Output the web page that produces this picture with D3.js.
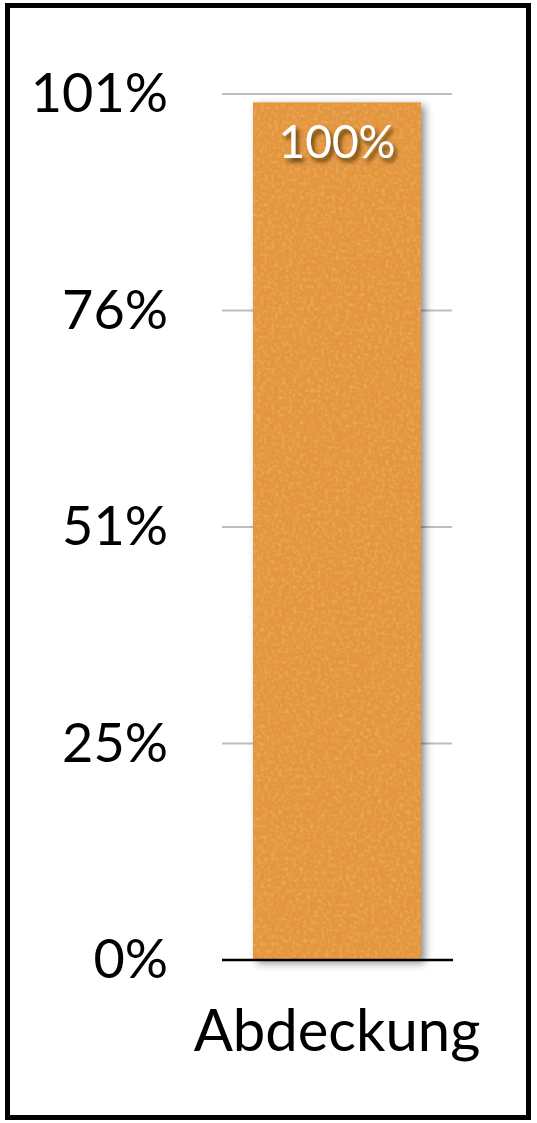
<!DOCTYPE html>
<html>
<head>
<meta charset="utf-8">
<script src="https://cdn.jsdelivr.net/npm/d3@7"></script>
<style>
  html, body { margin: 0; padding: 0; background: #fff; }
  svg { display: block; }
  text { font-family: "Lato", "Open Sans", sans-serif; }
</style>
</head>
<body>
<div id="chart"></div>
<script>
// Coverage chart data
const categories = ["Abdeckung"];
const values = [100];
const valueLabels = ["100%"];
const tickValues = [0, 25.25, 50.5, 75.75, 101];
const tickLabels = ["0%", "25%", "51%", "76%", "101%"];
const yMax = 101;

const W = 537, H = 1123;
const margin = { left: 222, right: 85, top: 94, bottom: 163 };

const svg = d3.select("#chart").append("svg")
  .attr("width", W).attr("height", H);

const defs = svg.append("defs");

// Bar drop shadow
const shadow = defs.append("filter").attr("id", "barShadow")
  .attr("x", "-20%").attr("y", "-10%").attr("width", "150%").attr("height", "120%");
shadow.append("feGaussianBlur").attr("in", "SourceAlpha").attr("stdDeviation", 4).attr("result", "blur");
shadow.append("feOffset").attr("in", "blur").attr("dx", 4).attr("dy", 3).attr("result", "off");
shadow.append("feComponentTransfer").attr("in", "off").attr("result", "soft")
  .append("feFuncA").attr("type", "linear").attr("slope", 0.45);
const sm = shadow.append("feMerge");
sm.append("feMergeNode").attr("in", "soft");
sm.append("feMergeNode").attr("in", "SourceGraphic");

// Paper-like grain on the bar fill
const grain = defs.append("filter").attr("id", "grain")
  .attr("x", 0).attr("y", 0).attr("width", "100%").attr("height", "100%");
grain.append("feTurbulence").attr("type", "fractalNoise").attr("baseFrequency", 0.28)
  .attr("numOctaves", 2).attr("seed", 3).attr("result", "noise");
grain.append("feColorMatrix").attr("in", "noise").attr("type", "matrix")
  .attr("values", "0 0 0 0 0.78  0 0 0 0 0.47  0 0 0 0 0.16  1.6 0 0 0 -0.75").attr("result", "tint");
grain.append("feComposite").attr("in", "tint").attr("in2", "SourceGraphic").attr("operator", "atop");

// Text shadow for the value label
const ts = defs.append("filter").attr("id", "textShadow")
  .attr("x", "-20%").attr("y", "-20%").attr("width", "150%").attr("height", "150%");
ts.append("feGaussianBlur").attr("in", "SourceAlpha").attr("stdDeviation", 2).attr("result", "b");
ts.append("feOffset").attr("in", "b").attr("dx", 3).attr("dy", 4).attr("result", "o");
ts.append("feFlood").attr("flood-color", "#4a2e08").attr("flood-opacity", 0.85).attr("result", "c");
ts.append("feComposite").attr("in", "c").attr("in2", "o").attr("operator", "in").attr("result", "s");
const tm = ts.append("feMerge");
tm.append("feMergeNode").attr("in", "s");
tm.append("feMergeNode").attr("in", "SourceGraphic");

// Outer frame
svg.append("rect")
  .attr("x", 7.5).attr("y", 5.5).attr("width", 521).attr("height", 1112)
  .attr("fill", "none").attr("stroke", "#000").attr("stroke-width", 5);

const plotW = W - margin.left - margin.right;
const plotH = H - margin.top - margin.bottom;

const x = d3.scaleBand().domain(categories).range([margin.left, margin.left + plotW])
  .paddingInner(0.27).paddingOuter(0.135);
const y = d3.scaleLinear().domain([0, yMax]).range([margin.top + plotH, margin.top]);

// Gridlines
svg.append("g")
  .selectAll("line").data(tickValues.slice(1)).join("line")
  .attr("x1", margin.left).attr("x2", margin.left + plotW)
  .attr("y1", d => y(d)).attr("y2", d => y(d))
  .attr("stroke", "#bdbdbd").attr("stroke-width", 2);

// Y axis labels
const yAxis = d3.axisLeft(y).tickValues(tickValues)
  .tickFormat((d, i) => tickLabels[i]).tickSize(0).tickPadding(54);
const gy = svg.append("g").attr("transform", `translate(${margin.left},0)`).call(yAxis);
gy.select(".domain").remove();
gy.selectAll("text")
  .style("font-family", "Lato, 'Open Sans', sans-serif")
  .attr("font-size", 54).attr("fill", "#000").attr("dy", "0.33em");

// Bars
svg.append("g").selectAll("rect").data(values).join("rect")
  .attr("x", (d, i) => x(categories[i]))
  .attr("y", d => y(d))
  .attr("width", x.bandwidth())
  .attr("height", d => y(0) - y(d))
  .attr("fill", "#e5963d")
  .attr("filter", "url(#barShadow)");
svg.append("g").selectAll("rect").data(values).join("rect")
  .attr("x", (d, i) => x(categories[i]))
  .attr("y", d => y(d))
  .attr("width", x.bandwidth())
  .attr("height", d => y(0) - y(d))
  .attr("fill", "#e5963d")
  .attr("filter", "url(#grain)");

// Baseline
svg.append("line")
  .attr("x1", margin.left).attr("x2", margin.left + plotW + 1)
  .attr("y1", y(0)).attr("y2", y(0))
  .attr("stroke", "#000").attr("stroke-width", 2.5);

// Value labels
svg.append("g").selectAll("text").data(values).join("text")
  .attr("x", (d, i) => x(categories[i]) + x.bandwidth() / 2)
  .attr("y", d => y(d) + 55)
  .attr("text-anchor", "middle")
  .attr("font-size", 46).attr("fill", "#fff")
  .attr("filter", "url(#textShadow)")
  .text((d, i) => valueLabels[i]);

// Category labels
const xAxis = d3.axisBottom(x).tickSize(0).tickPadding(50);
const gx = svg.append("g").attr("transform", `translate(0,${y(0)})`).call(xAxis);
gx.select(".domain").remove();
gx.selectAll("text")
  .style("font-family", "Lato, 'Open Sans', sans-serif")
  .attr("font-size", 58).attr("fill", "#000");
</script>
</body>
</html>
